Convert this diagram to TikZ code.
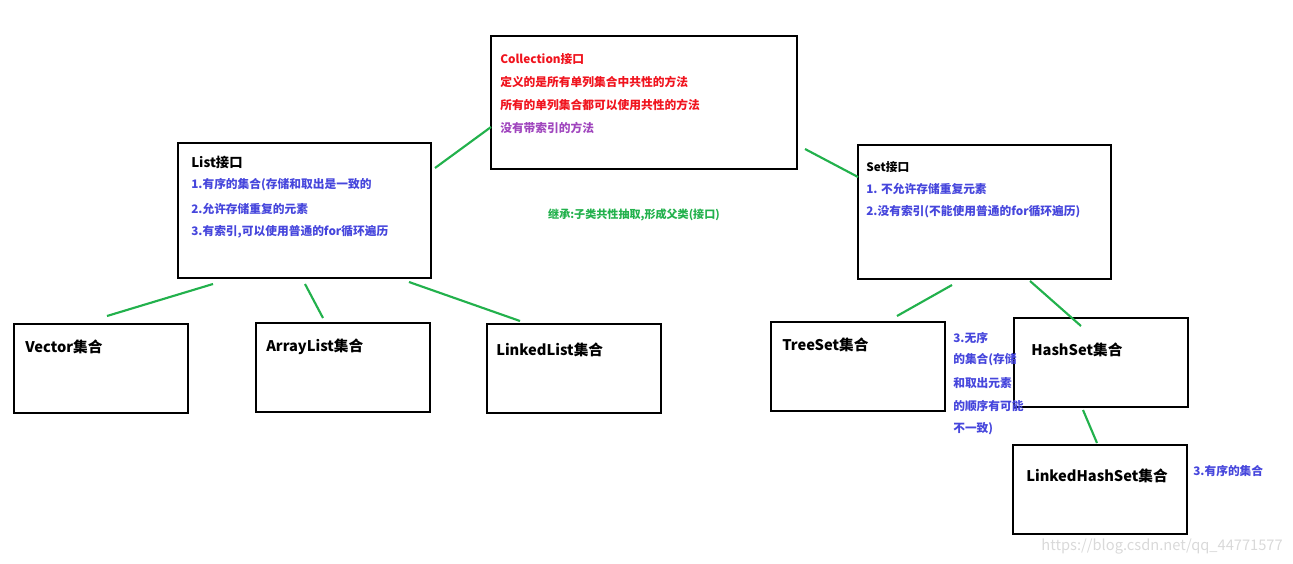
\documentclass[tikz,border=0pt]{standalone}
\usepackage{fontspec}
\setmainfont{Noto Sans CJK SC}
\usetikzlibrary{positioning}
\definecolor{linkgreen}{RGB}{34,177,76}
\definecolor{notered}{RGB}{240,20,30}
\definecolor{noteviolet}{RGB}{160,70,190}
\definecolor{noteblue}{RGB}{70,70,220}
\tikzset{
  box/.style={draw, line width=2.2pt},
  title/.style={anchor=west, inner sep=0pt, font=\fontsize{11}{13}\selectfont\bfseries},
  note/.style={anchor=west, inner sep=0pt, font=\fontsize{8.8}{10}\selectfont\bfseries},
  link/.style={linkgreen, line width=1.6pt}
}
\begin{document}
\begin{tikzpicture}[x=0.75pt,y=-0.75pt]
    \useasboundingbox (0,0) rectangle (1293,564);
    % boxes
    \draw[box] (491,36) rectangle (797,169);
    \draw[box] (178,143) rectangle (431,278);
    \draw[box] (858,145) rectangle (1111,279);
    \draw[box] (14,324) rectangle (188,413);
    \draw[box] (256,323) rectangle (430,412);
    \draw[box] (487,324) rectangle (661,413);
    \draw[box] (771,322) rectangle (945,411);
    \draw[box] (1014,318) rectangle (1188,407);
    \draw[box] (1013,445) rectangle (1187,534);
    
    % Collection
    \node[note, notered] (coll) at (500,59) {Collection接口};
    \node[note, notered] (coll1) at (500,82) {定义的是所有单列集合中共性的方法};
    \node[note, notered] (coll2) at (500,105) {所有的单列集合都可以使用共性的方法};
    \node[note, noteviolet] (coll3) at (500,128) {没有带索引的方法};
    
    % List
    \node[title, font=\fontsize{10}{12}\selectfont\bfseries] (list) at (191,162) {List接口};
    \node[note, noteblue] (list1) at (191,185) {1.有序的集合(存储和取出是一致的};
    \node[note, noteblue] (list2) at (191,209) {2.允许存储重复的元素};
    \node[note, noteblue] (list3) at (191,232) {3.有索引,可以使用普通的for循环遍历};
    
    % Set
    \node[note, black] (set) at (866,167) {Set接口};
    \node[note, noteblue] (set1) at (866,189) {1. 不允许存储重复元素};
    \node[note, noteblue] (set2) at (866,212) {2.没有索引(不能使用普通的for循环遍历)};
    
    \node[note, linkgreen, anchor=center, font=\fontsize{8.3}{10}\selectfont\bfseries] (extend) at (634,215) {继承:子类共性抽取,形成父类(接口)};
    
    % leaves
    \node[title] (vector) at (25,347) {Vector集合};
    \node[title] (arraylist) at (266,347) {ArrayList集合};
    \node[title] (linkedlist) at (496,350) {LinkedList集合};
    \node[title] (treeset) at (782,345) {TreeSet集合};
    \node[title] (hashset) at (1031,350) {HashSet集合};
    \node[title] (linkedhashset) at (1026,476) {LinkedHashSet集合};
    
    \node[note, noteblue] (tree1) at (953,338) {3.无序};
    \node[note, noteblue] (tree2) at (953,360) {的集合(存储};
    \node[note, noteblue] (tree3) at (953,383) {和取出元素};
    \node[note, noteblue] (tree4) at (953,406) {的顺序有可能};
    \node[note, noteblue] (tree5) at (953,429) {不一致)};
    \node[note, noteblue] (lhs1) at (1193,471) {3.有序的集合};
    
    \node[anchor=east, inner sep=0pt, gray!30, font=\fontsize{11}{13}\selectfont] (mark) at (1283,546) {https://blog.csdn.net/qq\_44771577};
    
    % connectors
    \coordinate (l0) at (435,168); \coordinate (c0) at (491,127);
    \coordinate (s0) at (858,177); \coordinate (c1) at (805,149);
    \coordinate (l1) at (213,284); \coordinate (v0) at (107,316);
    \coordinate (l2) at (305,284); \coordinate (a0) at (323,318);
    \coordinate (l3) at (409,282); \coordinate (k0) at (520,321);
    \coordinate (s1) at (952,285); \coordinate (t0) at (897,316);
    \coordinate (s2) at (1030,281); \coordinate (h0) at (1081,326);
    \coordinate (h1) at (1083,410); \coordinate (m0) at (1097,443);
    \draw[link] (l0) -- (c0);
    \draw[link] (c1) -- (s0);
    \draw[link] (l1) -- (v0);
    \draw[link] (l2) -- (a0);
    \draw[link] (l3) -- (k0);
    \draw[link] (s1) -- (t0);
    \draw[link] (s2) -- (h0);
    \draw[link] (h1) -- (m0);
\end{tikzpicture}
\end{document}
